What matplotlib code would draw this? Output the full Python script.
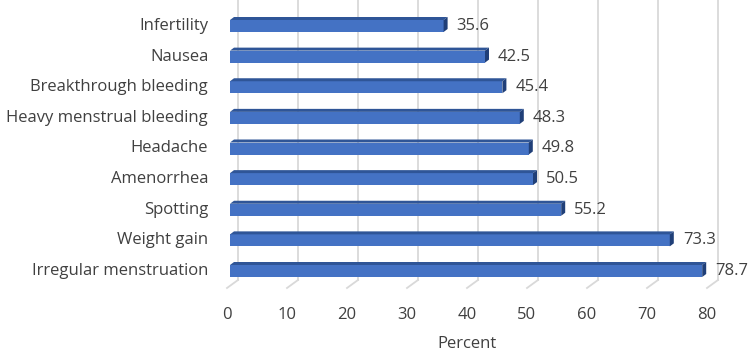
import matplotlib.pyplot as plt
from matplotlib.patches import Polygon

plt.rcParams['font.family'] = ['Open Sans', 'DejaVu Sans']

categories = ['Irregular menstruation', 'Weight gain', 'Spotting', 'Amenorrhea', 'Headache',
              'Heavy menstrual bleeding', 'Breakthrough bleeding', 'Nausea', 'Infertility']
values = [78.7, 73.3, 55.2, 50.5, 49.8, 48.3, 45.4, 42.5, 35.6]
ticks = [0, 10, 20, 30, 40, 50, 60, 70, 80]

W, H = 753, 356
fig = plt.figure(figsize=(W / 100, H / 100), dpi=100)
ax = fig.add_axes([227 / W, 1 - 288 / H, 480 / W, 288 / H])

pxu_x = 480 / 80.0      # px per x unit
pxu_y = 30.625          # px per category
ax.set_xlim(0, 80)
ax.set_ylim((269 - 288) / pxu_y, 269 / pxu_y)

txt = '#404040'
grid_c = '#D9D9D9'
back_dx = 11 / pxu_x
back_bot = (269 - 280) / pxu_y
front_bot = (269 - 288) / pxu_y
top = 269 / pxu_y

# gridlines on back wall + floor diagonals
for t in ticks:
    ax.plot([t + back_dx, t + back_dx], [back_bot, top], color=grid_c, lw=1.3, zorder=1, clip_on=False)
    ax.plot([t + back_dx, t], [back_bot, front_bot], color=grid_c, lw=1.3, zorder=1, clip_on=False)

# 3d-ish bars
x0 = 3 / pxu_x
dx = 4 / pxu_x
dy = 3 / pxu_y
for i, v in enumerate(values):
    c = i
    yb = c - 8 / pxu_y
    yt = c + 4 / pxu_y
    x1 = x0 + v
    ax.add_patch(Polygon([(x0, yb), (x1, yb), (x1, yt), (x0, yt)], closed=True,
                         facecolor='#4472C4', edgecolor='none', zorder=3))
    ax.add_patch(Polygon([(x0, yt), (x1, yt), (x1 + dx, yt + dy), (x0 + dx, yt + dy)], closed=True,
                         facecolor='#2F5597', edgecolor='none', zorder=3))
    ax.add_patch(Polygon([(x1, yb), (x1 + dx, yb + dy), (x1 + dx, yt + dy), (x1, yt)], closed=True,
                         facecolor='#203F78', edgecolor='none', zorder=3))
    ax.text(x1 + dx + 9 / pxu_x, c - 2 / pxu_y, f'{v}', va='center', ha='left',
            fontsize=12, color=txt)

ax.set_yticks(range(len(categories)))
ax.set_yticklabels(categories, fontsize=12, color=txt)
ax.set_xticks(ticks)
ax.set_xticklabels([str(t) for t in ticks], fontsize=12, color=txt)
ax.tick_params(axis='both', length=0)
ax.tick_params(axis='y', pad=13.5)
ax.tick_params(axis='x', pad=14)
ax.set_xlabel('Percent', fontsize=12, color=txt, labelpad=9)
for s in ax.spines.values():
    s.set_visible(False)
ax.patch.set_visible(False)

fig.savefig('out.png', dpi=100)
